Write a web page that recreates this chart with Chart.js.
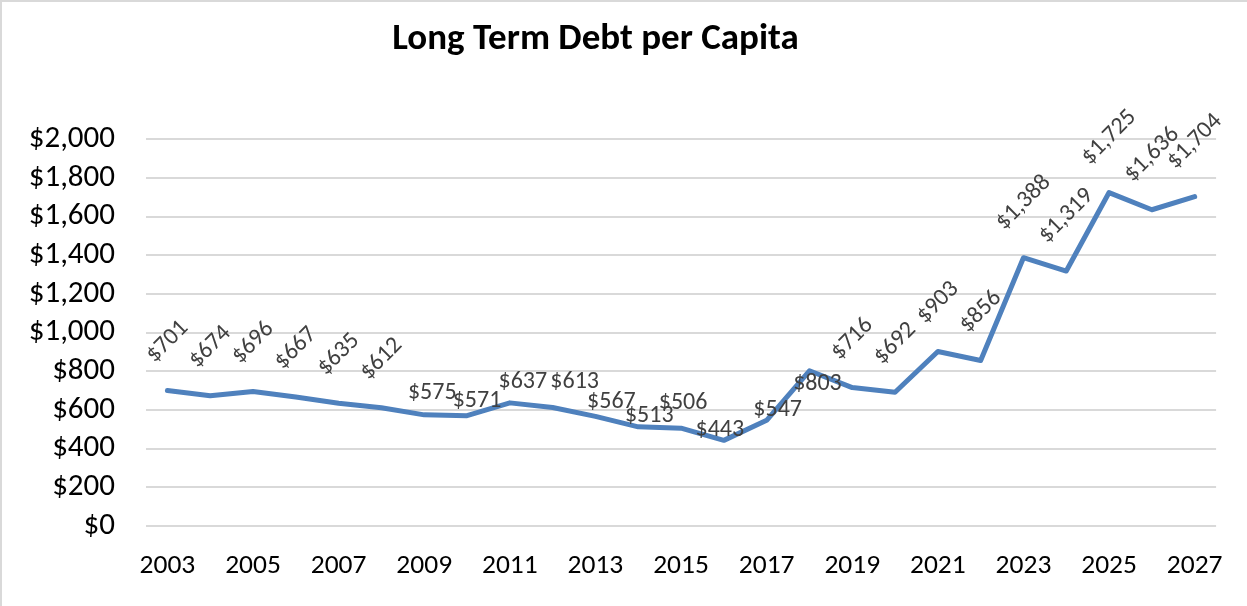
<!DOCTYPE html>
<html>
<head>
<meta charset="utf-8">
<title>Long Term Debt per Capita</title>
<script src="https://cdn.jsdelivr.net/npm/chart.js@4.4.1/dist/chart.umd.min.js"></script>
<style>
  html, body { margin: 0; padding: 0; background: #ffffff; }
  #wrap { width: 1247px; height: 606px; }
</style>
</head>
<body>
<div id="wrap"><canvas id="chart" width="1247" height="606"></canvas></div>
<script>
// Fiscal years shown on the category axis
const years = ['2003','2004','2005','2006','2007','2008','2009','2010','2011','2012','2013','2014','2015',
               '2016','2017','2018','2019','2020','2021','2022','2023','2024','2025','2026','2027'];

// Long-term debt per capita, in dollars
const debtPerCapita = [701, 674, 696, 667, 635, 612, 575, 571, 637, 613, 567, 513, 506,
                       443, 547, 803, 716, 692, 903, 856, 1388, 1319, 1725, 1636, 1704];

// Value-axis tick values
const yTickValues = [0, 200, 400, 600, 800, 1000, 1200, 1400, 1600, 1800, 2000];

// How each value label sits next to its point: 'r' = rotated above the point,
// otherwise a horizontal label nudged by [dx, dy] from the point.
const labelPlacement = ['r','r','r','r','r','r',
  [8,-22],[10,-15],[13,-21],[22,-26],[16,-14],[11,-11],[2,-25],[-4,-10],[11,-10],[8,13],
  'r','r','r','r','r','r','r','r','r'];

const FONT = "Carlito, Lato, 'Open Sans', sans-serif";
const money = v => '$' + Number(v).toLocaleString('en-US');

const frame = {
  id: 'frame',
  beforeDraw(chart) {
    const ctx = chart.ctx;
    ctx.save();
    ctx.fillStyle = '#ffffff';
    ctx.fillRect(0, 0, chart.width, chart.height);
    ctx.strokeStyle = '#d9d9d9';
    ctx.lineWidth = 2;
    ctx.strokeRect(1, 1, chart.width + 10, chart.height + 10);
    ctx.restore();
  }
};

// Centre the title a little left of the canvas middle, over the plot
const titleShift = {
  id: 'titleShift',
  afterLayout(chart) {
    if (chart.titleBlock) { chart.titleBlock.right -= 34; }
  }
};

const valueLabels = {
  id: 'valueLabels',
  afterDatasetsDraw(chart) {
    const ctx = chart.ctx;
    const meta = chart.getDatasetMeta(0);
    const data = chart.data.datasets[0].data;
    ctx.save();
    ctx.font = '24px ' + FONT;
    ctx.fillStyle = '#404040';
    ctx.textAlign = 'center';
    ctx.textBaseline = 'middle';
    meta.data.forEach((pt, i) => {
      const text = money(data[i]);
      const place = labelPlacement[i];
      if (place === 'r') {
        const w = ctx.measureText(text).width;
        const h = 16;
        const half = (w + h) * Math.SQRT1_2 / 2;
        ctx.save();
        ctx.translate(pt.x, pt.y - 26 - half);
        ctx.rotate(-Math.PI / 4);
        ctx.fillText(text, 0, 0);
        ctx.restore();
      } else {
        ctx.fillText(text, pt.x + place[0], pt.y + place[1]);
      }
    });
    ctx.restore();
  }
};

new Chart(document.getElementById('chart'), {
  type: 'line',
  data: {
    labels: years,
    datasets: [{
      data: debtPerCapita,
      borderColor: '#4f81bd',
      borderWidth: 5,
      borderJoinStyle: 'round',
      borderCapStyle: 'round',
      pointRadius: 0,
      pointHoverRadius: 0,
      tension: 0,
      fill: false
    }]
  },
  options: {
    responsive: false,
    devicePixelRatio: 1,
    animation: false,
    events: [],
    layout: { padding: { left: 0, right: 22, top: 0, bottom: 0 } },
    plugins: {
      legend: { display: false },
      tooltip: { enabled: false },
      title: {
        display: true,
        text: 'Long Term Debt per Capita',
        color: '#000000',
        font: { family: FONT, size: 37, weight: 'bold', lineHeight: 1.2 },
        padding: { top: 18, bottom: 77 }
      }
    },
    scales: {
      x: {
        offset: true,
        grid: { display: false, drawTicks: false },
        border: { display: false },
        ticks: {
          color: '#000000',
          font: { family: FONT, size: 27.5 },
          padding: 24,
          maxRotation: 0,
          autoSkip: false,
          callback: (v, i) => (i % 2 === 0 ? years[i] : '')
        },
        afterFit: s => { s.height = 80; }
      },
      y: {
        min: 0,
        max: 2000,
        afterBuildTicks: s => { s.ticks = yTickValues.map(v => ({ value: v })); },
        grid: { color: '#d9d9d9', lineWidth: 2, drawTicks: false },
        border: { display: false },
        ticks: {
          color: '#000000',
          font: { family: FONT, size: 31 },
          padding: 31,
          autoSkip: false,
          callback: v => money(v)
        },
        afterFit: s => { s.width = 146; }
      }
    }
  },
  plugins: [frame, titleShift, valueLabels]
});
</script>
</body>
</html>
